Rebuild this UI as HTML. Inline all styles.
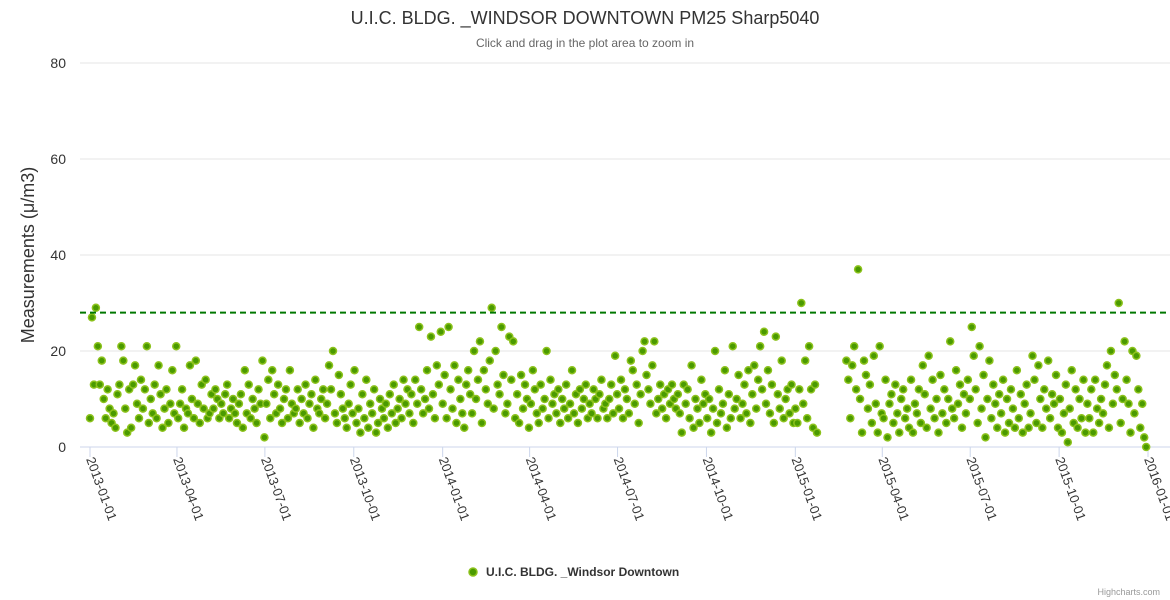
<!DOCTYPE html>
<html><head><meta charset="utf-8"><style>
body{margin:0;background:#fff;}
svg{font-family:"Liberation Sans",sans-serif;display:block}
</style></head><body>
<svg id="chart" width="1170" height="600">
<rect width="1170" height="600" fill="#fff"/>
<text x="585" y="24" text-anchor="middle" font-size="18" fill="#333">U.I.C. BLDG. _WINDSOR DOWNTOWN PM25 Sharp5040</text>
<text x="585" y="47" text-anchor="middle" font-size="12" fill="#666">Click and drag in the plot area to zoom in</text>
<text transform="translate(34,255) rotate(-90)" text-anchor="middle" font-size="18" fill="#333">Measurements (μ/m3)</text>
<g id="grid"></g><g id="xaxis"></g><g id="pts"></g>
<line x1="80" x2="1170" y1="312.6" y2="312.6" stroke="#007700" stroke-width="2" stroke-dasharray="6,4"/>
<g>
<circle cx="473" cy="572" r="4" fill="#4a9a00" stroke="#8cc21c" stroke-width="1.5"/>
<text x="486" y="576" font-size="12" font-weight="bold" fill="#333">U.I.C. BLDG. _Windsor Downtown</text>
</g>
<text x="1160" y="595" text-anchor="end" font-size="9" fill="#999">Highcharts.com</text>
</svg>
<script>
const yTicks=[0,20,40,60,80];
const xTickLabels=["2013-01-01","2013-04-01","2013-07-01","2013-10-01","2014-01-01","2014-04-01","2014-07-01","2014-10-01","2015-01-01","2015-04-01","2015-07-01","2015-10-01","2016-01-01"];
const threshold=28;
const monthlyValues=[
[6,27,13,29,21,13,18,10,6,12,8,5,7,4,11],
[13,21,18,8,3,12,4,13,17,9,6,14,8,12,21],
[5,10,7,13,6,17,11,4,8,12,5,9,16,7,21],
[6,9,12,4,8,7,17,10,6,18,9,5,13,8,14],
[6,7,11,8,12,10,6,9,7,11,13,6,8,10,7],
[5,9,11,4,16,7,13,6,10,8,5,12,9,18,2],
[9,14,6,16,11,7,13,8,5,10,12,6,16,9,7],
[8,12,5,10,7,13,6,9,11,4,14,8,7,10,12],
[6,9,17,12,20,7,5,15,11,8,6,4,9,13,7],
[16,5,8,3,11,6,14,4,9,7,12,3,5,10,8],
[6,9,4,11,7,13,5,8,10,6,14,9,12,7,11],
[5,14,9,25,12,7,10,16,8,23,11,6,17,13,24],
[9,15,6,25,12,8,17,5,14,10,7,4,13,16,11],
[7,20,10,14,22,5,16,12,9,18,29,8,20,13,11],
[25,15,7,9,23,14,22,6,11,5,15,8,13,10,4],
[9,16,12,7,5,13,8,10,20,6,14,9,11,7,12],
[5,10,8,13,6,9,16,7,11,5,12,8,10,13,6],
[9,7,12,10,6,11,14,8,9,6,10,13,7,19,11],
[8,14,6,12,10,7,18,16,9,13,5,11,20,22,15],
[12,9,17,22,7,10,13,8,11,6,12,9,13,10,8],
[11,7,3,13,9,12,6,17,4,10,8,5,14,9,11],
[6,10,3,8,20,5,12,7,9,16,4,11,6,21,8],
[10,15,6,9,13,7,16,5,11,17,8,14,21,12,24],
[9,16,7,13,5,23,11,8,18,6,10,12,7,13,5],
[8,5,12,30,9,18,6,21,12,4,13,3,null,null,null],
[null,null,null,null,null,null,null,null,null,null,null,18,14,6,17],
[21,12,37,10,3,18,15,8,13,5,19,9,3,21,7],
[6,14,2,9,11,5,13,7,3,10,12,6,8,4,14],
[3,9,7,12,5,17,11,4,19,8,14,6,10,3,15],
[7,12,5,10,22,8,6,16,9,13,4,11,7,14,10],
[25,19,12,5,21,8,15,2,10,18,6,13,9,4,11],
[7,14,3,10,5,12,8,4,16,6,11,3,9,13,4],
[7,19,14,5,17,10,4,12,8,18,6,11,9,15,4],
[10,3,7,13,1,8,16,5,12,4,10,6,14,3,9],
[6,12,3,14,8,5,10,7,13,17,4,20,9,15,12],
[30,5,10,22,14,9,3,20,7,19,12,4,9,2,0]
];
const NS="http://www.w3.org/2000/svg";
const X0=90,X1=1148,Y0=447,Y1=63;
function xScale(day){return X0+day*(X1-X0)/1095;}
function yScale(v){return Y0-(v/80)*(Y0-Y1);}
const grid=document.getElementById('grid');
yTicks.forEach(t=>{
  const l=document.createElementNS(NS,'line');
  l.setAttribute('x1',80);l.setAttribute('x2',1170);
  l.setAttribute('y1',yScale(t));l.setAttribute('y2',yScale(t));
  l.setAttribute('stroke',t===0?'#ccd6eb':'#e6e6e6');
  
  
  grid.appendChild(l);
  const tx=document.createElementNS(NS,'text');
  tx.setAttribute('x',66);tx.setAttribute('y',yScale(t)+5);
  tx.setAttribute('text-anchor','end');tx.setAttribute('font-size','14');tx.setAttribute('fill','#333');
  tx.textContent=t;
  
  
  grid.appendChild(tx);
});
const xa=document.getElementById('xaxis');
xTickLabels.forEach((lab,i)=>{
  const d=(Date.parse(lab)-Date.parse("2013-01-01"))/86400000;
  const x=xScale(d);
  const l=document.createElementNS(NS,'line');
  l.setAttribute('x1',x);l.setAttribute('x2',x);l.setAttribute('y1',447);l.setAttribute('y2',457);
  l.setAttribute('stroke','#ccd6eb');
  
  
  xa.appendChild(l);
  const t=document.createElementNS(NS,'text');
  t.setAttribute('transform','translate('+(x-4)+',459) rotate(70)');
  t.setAttribute('font-size','13');t.setAttribute('fill','#333');
  t.textContent=lab;
  
  
  xa.appendChild(t);
});
const pts=document.getElementById('pts');
monthlyValues.forEach((arr,m)=>{
  arr.forEach((v,j)=>{
    if(v===null)return;
    const day=m*30.42+j*2.03;
    const c=document.createElementNS(NS,'circle');
    c.setAttribute('cx',xScale(day));c.setAttribute('cy',yScale(v));c.setAttribute('r',3.5);
    c.setAttribute('fill','#4a9a00');c.setAttribute('stroke','#8cc21c');c.setAttribute('stroke-width','1.5');
    
    
    pts.appendChild(c);
  });
});
</script>
</body></html>
